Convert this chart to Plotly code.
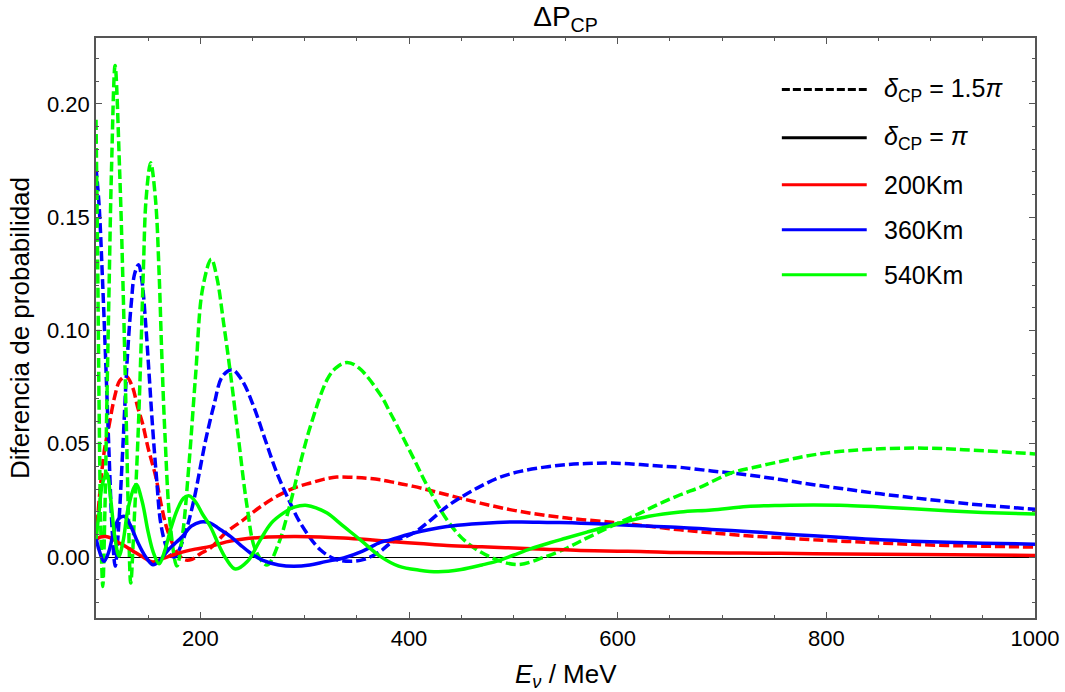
import plotly.graph_objects as go

# Energy grid (MeV) and probability differences for each baseline / CP phase.
# delta_CP = 1.5 pi (dashed)
x_r15 = [100, 104, 108, 112.5, 118, 123, 129, 135, 140, 144.5, 150, 157.2, 163, 168.4, 178, 185,
         192, 200, 209.6, 225, 241.5, 257, 273.4, 290, 305.5, 318, 330.7, 345, 360, 372.5, 388,
         404.4, 436.4, 468.4, 506.7, 551.4, 596, 628, 660, 690, 724, 756, 787.8, 820, 851.7, 883,
         915.6, 950, 1000]
y_r15 = [0.008, 0.03, 0.047, 0.058, 0.071, 0.078, 0.0797, 0.075, 0.066, 0.0592, 0.048, 0.0356, 0.022,
         0.012, 0.0018, -0.0012, -0.001, 0.0015, 0.004, 0.011, 0.0165, 0.022, 0.0268, 0.0305, 0.0327,
         0.0343, 0.0353, 0.0352, 0.0348, 0.0341, 0.0327, 0.0312, 0.0275, 0.0238, 0.0201, 0.0172,
         0.0153, 0.0137, 0.012, 0.0107, 0.0094, 0.0085, 0.0076, 0.0069, 0.0062, 0.0056, 0.0051,
         0.0048, 0.0044]

x_b15 = [100, 103, 106, 109, 112.6, 115.5, 118.4, 121.5, 125.3, 130.1, 134, 137, 140.8, 144, 147.6,
         151, 154, 158, 162, 167, 171, 175.3, 183, 192.4, 205.2, 213, 221.1, 230.4, 240, 251.1, 262,
         273.4, 285, 295.9, 315, 330, 343.8, 357, 372.5, 382, 404.4, 420, 436.4, 452, 468.4, 487,
         506.7, 530, 551.4, 570, 589.8, 605, 621.7, 640, 660, 690, 724, 756, 787.8, 820, 851.7, 883,
         915.6, 950, 1000]
y_b15 = [0.172, 0.155, 0.125, 0.09, 0.0444, 0.012, -0.004, 0.012, 0.0444, 0.0886, 0.113, 0.125, 0.129,
         0.122, 0.103, 0.08, 0.059, 0.035, 0.015, 0.005, 0.001, 0.0, 0.007, 0.0223, 0.0518, 0.067,
         0.0797, 0.0827, 0.078, 0.0665, 0.052, 0.0371, 0.025, 0.015, 0.0032, -0.001, -0.0019, -0.001,
         0.0025, 0.006, 0.0106, 0.016, 0.0223, 0.027, 0.0312, 0.0352, 0.0378, 0.0397, 0.0408, 0.0413,
         0.0415, 0.0413, 0.0408, 0.0402, 0.0396, 0.038, 0.0363, 0.0342, 0.0319, 0.0299, 0.0279,
         0.0262, 0.0245, 0.0229, 0.0211]

x_g15 = [100, 101.5, 103, 104.5, 106.5, 108.5, 110.5, 112.5, 114.8, 118.3, 122.7, 126, 129, 131,
         133.3, 136.5, 140, 143, 145.5, 148, 152.4, 157, 160.5, 163, 166, 171, 177.5, 183, 189.2,
         195.6, 202, 210.5, 216, 222.4, 228.8, 236.7, 244.8, 252.8, 263.9, 275, 286.3, 295, 305.5,
         321.5, 330, 340.6, 352, 372.5, 382, 388.5, 405, 418, 437, 454, 478, 503.5, 530, 551.5,
         564.2, 580, 602.7, 621.7, 640, 660, 680, 708, 730, 756, 780, 804, 830, 851.6, 883.6, 915,
         931.5, 960, 1000]
y_g15 = [0.193, 0.135, 0.065, 0.015, -0.013, 0.02, 0.07, 0.118, 0.17, 0.217, 0.17, 0.118, 0.06, 0.02,
         -0.0115, 0.015, 0.05, 0.09, 0.128, 0.158, 0.174, 0.158, 0.125, 0.09, 0.055, 0.015, -0.004,
         0.01, 0.0415, 0.0812, 0.118, 0.1315, 0.123, 0.103, 0.0813, 0.0518, 0.0223, 0.0032, -0.0035,
         0.006, 0.0238, 0.040, 0.0577, 0.0783, 0.0835, 0.0859, 0.0835, 0.0717, 0.0637, 0.058, 0.043,
         0.031, 0.016, 0.007, 0.0, -0.0033, 0.0, 0.004, 0.007, 0.0105, 0.0155, 0.0194, 0.0235,
         0.0275, 0.031, 0.037, 0.0395, 0.0422, 0.0445, 0.0462, 0.0472, 0.0478, 0.0481, 0.0478,
         0.0474, 0.0467, 0.0455]

# delta_CP = pi (solid)
x_r10 = [100, 104, 109.3, 114, 120, 128.5, 136, 145, 154.5, 165, 179.6, 195, 209.6, 225, 241.5, 265,
         289.5, 315, 337.4, 360, 382, 410, 436.4, 470, 500.3, 530, 564.2, 600, 621.7, 660, 720,
         787.8, 850, 920, 1000]
y_r10 = [0.0076, 0.0088, 0.0091, 0.0085, 0.0068, 0.0047, 0.0025, 0.0, -0.0022, -0.0005, 0.0018,
         0.0035, 0.0047, 0.0067, 0.008, 0.0088, 0.0091, 0.0089, 0.0084, 0.0077, 0.0069, 0.006,
         0.0051, 0.0045, 0.004, 0.0035, 0.0029, 0.0026, 0.0025, 0.002, 0.0018, 0.0015, 0.0012,
         0.001, 0.0007]

x_b10 = [100, 103, 107.6, 112, 117, 122, 127.5, 133, 140, 147, 154.6, 162, 170, 182.8, 191, 200.2,
         209.6, 218, 228.8, 238, 248, 260, 275, 289.5, 305, 320, 337.4, 355, 372.5, 382, 404.4, 420,
         436.4, 460, 484.4, 508, 532.3, 556, 580.2, 600, 621.7, 660, 690, 724, 756, 787.8, 820,
         851.7, 883, 915.6, 950, 1000]
y_b10 = [0.0085, 0.003, -0.0019, 0.002, 0.011, 0.017, 0.0179, 0.014, 0.0065, 0.0005, -0.0034, -0.001,
         0.0035, 0.0091, 0.0135, 0.0155, 0.015, 0.0125, 0.0091, 0.0055, 0.0018, -0.0015, -0.0035,
         -0.0041, -0.0035, -0.002, -0.0004, 0.0025, 0.0065, 0.0076, 0.0106, 0.0122, 0.0135, 0.0146,
         0.0153, 0.0155, 0.0153, 0.0151, 0.0147, 0.0143, 0.0138, 0.0131, 0.0122, 0.0113, 0.0103,
         0.0094, 0.0085, 0.0076, 0.007, 0.0065, 0.0061, 0.0057]

x_g10 = [100, 103, 106, 110.3, 114, 118, 122, 126, 131, 138.5, 144, 150, 155, 160.5, 166, 172, 178,
         184, 189.5, 196, 202, 209.6, 218, 225, 233.6, 245, 257.5, 268, 279.5, 290, 302.2, 312,
         321.5, 337.4, 353.4, 372.5, 390, 410, 428, 450, 470, 484.4, 500, 516.3, 535, 550, 570.6,
         602.7, 630, 660, 690, 724, 756, 787.8, 820, 851.7, 883, 915.6, 950, 1000]
y_g10 = [0.008, 0.02, 0.032, 0.037, 0.026, 0.009, 0.0005, 0.007, 0.022, 0.032, 0.025, 0.011, 0.002,
         -0.003, 0.003, 0.013, 0.021, 0.026, 0.027, 0.024, 0.019, 0.0135, 0.005, -0.001, -0.0053,
         -0.002, 0.0076, 0.015, 0.0194, 0.022, 0.0228, 0.0215, 0.0194, 0.0135, 0.0076, 0.0003,
         -0.004, -0.0058, -0.0065, -0.0055, -0.0035, -0.0018, 0.0008, 0.0036, 0.0063, 0.0083, 0.011,
         0.015, 0.018, 0.0199, 0.0208, 0.0223, 0.0228, 0.023, 0.0228, 0.0221, 0.0213, 0.0204,
         0.0197, 0.019]

RED, BLUE, GREEN = "#FF0000", "#0000FF", "#00FF00"
FONT = "Liberation Sans, Arial, sans-serif"
DASH = "10px,4px"

series = [
    (x_r15, y_r15, RED, DASH),
    (x_b15, y_b15, BLUE, DASH),
    (x_g15, y_g15, GREEN, DASH),
    (x_r10, y_r10, RED, "solid"),
    (x_b10, y_b10, BLUE, "solid"),
    (x_g10, y_g10, GREEN, "solid"),
]

fig = go.Figure()
for xs, ys, col, dash in series:
    fig.add_trace(go.Scatter(
        x=xs, y=ys, mode="lines",
        line=dict(color=col, width=3.5, dash=dash, shape="spline", smoothing=1.0),
        showlegend=False, hoverinfo="skip",
    ))

frame = "#555555"
common_axis = dict(
    showline=True, linecolor=frame, linewidth=1.5, mirror="ticks",
    ticks="inside", tickcolor=frame, tickwidth=1, ticklen=6,
    showgrid=False, tickfont=dict(family=FONT, size=22, color="black"),
    automargin=False,
)

fig.update_xaxes(
    range=[100, 1000], tick0=0, dtick=200, zeroline=False,
    minor=dict(ticks="inside", dtick=50, ticklen=3.5, tickcolor=frame, showgrid=False),
    **common_axis,
)
fig.update_yaxes(
    range=[-0.0269, 0.2291], tick0=0, dtick=0.05, tickformat=".2f",
    zeroline=True, zerolinecolor="black", zerolinewidth=1,
    minor=dict(ticks="inside", dtick=0.01, ticklen=3.5, tickcolor=frame, showgrid=False),
    title=dict(text="Diferencia de probabilidad", font=dict(family=FONT, size=26, color="black"),
               standoff=10),
    **common_axis,
)

# Horizontal axis title placed below the tick labels
fig.add_annotation(xref="paper", yref="paper", x=0.5, y=-0.0995, text="<i>E</i><sub><i>ν</i></sub> / MeV",
                   showarrow=False, xanchor="center", yanchor="middle",
                   font=dict(family=FONT, size=26, color="black"))

# Legend drawn by hand so the sample lines are long, as in the figure
legend_rows = [
    ("<i>δ</i><sub>CP</sub> = 1.5<i>π</i>", "black", "dash"),
    ("<i>δ</i><sub>CP</sub> = <i>π</i>", "black", "solid"),
    ("200Km", RED, "solid"),
    ("360Km", BLUE, "solid"),
    ("540Km", GREEN, "solid"),
]
row_y = [0.911, 0.828, 0.747, 0.6695, 0.592]
for (label, col, dash), yy in zip(legend_rows, row_y):
    fig.add_shape(type="line", xref="paper", yref="paper", x0=0.7304, x1=0.8208, y0=yy, y1=yy,
                  line=dict(color=col, width=3, dash="8px,3px" if dash == "dash" else "solid"))
    fig.add_annotation(xref="paper", yref="paper", x=0.837, y=yy, text=label, showarrow=False,
                       xanchor="left", yanchor="middle", font=dict(family=FONT, size=25, color="black"))

fig.update_layout(
    width=1065, height=692,
    margin=dict(l=96, r=30, t=38, b=74),
    paper_bgcolor="white", plot_bgcolor="white",
    title=dict(text="ΔP<sub>CP</sub>", x=0.5, xref="paper", y=0.977, yref="container",
               xanchor="center", yanchor="middle", font=dict(family=FONT, size=28, color="black")),
)

fig.write_html("out.html")
